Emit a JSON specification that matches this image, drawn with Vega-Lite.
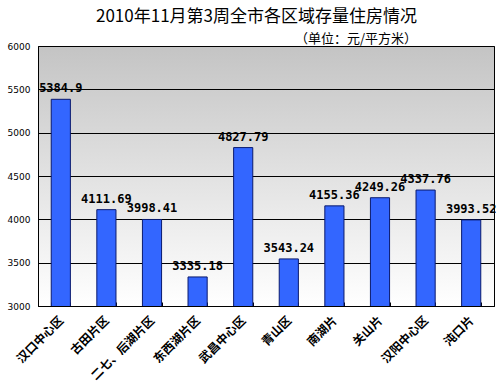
{
  "$schema": "https://vega.github.io/schema/vega-lite/v6.json",
  "autosize": {"type": "none"},
  "width": 456,
  "height": 260,
  "padding": {"left": 38, "top": 46, "right": 6, "bottom": 86},
  "background": "#ffffff",
  "title": {
    "text": "2010年11月第3周全市各区域存量住房情况",
    "subtitle": "（单位：元/平方米）",
    "anchor": "end",
    "frame": "group",
    "dx": -77,
    "offset": -5,
    "font": "Noto Sans CJK SC",
    "fontSize": 17,
    "fontWeight": "normal",
    "color": "#000000",
    "subtitleFont": "Noto Sans CJK SC",
    "subtitleFontSize": 13,
    "subtitleColor": "#000000",
    "subtitlePadding": 7
  },
  "data": {
    "values": [
      {"region": "汉口中心区", "price": 5384.9},
      {"region": "古田片区", "price": 4111.69},
      {"region": "二七、后湖片区", "price": 3998.41},
      {"region": "东西湖片区", "price": 3335.18},
      {"region": "武昌中心区", "price": 4827.79},
      {"region": "青山区", "price": 3543.24},
      {"region": "南湖片", "price": 4155.36},
      {"region": "关山片", "price": 4249.26},
      {"region": "汉阳中心区", "price": 4337.76},
      {"region": "沌口片", "price": 3993.52}
    ]
  },
  "encoding": {
    "x": {
      "field": "region",
      "type": "nominal",
      "sort": null,
      "scale": {"paddingInner": 0.58, "paddingOuter": 0.29},
      "axis": {
        "title": null,
        "labelAngle": -45,
        "labelAlign": "right",
        "labelBaseline": "middle",
        "labelFont": "Noto Sans CJK SC",
        "labelFontSize": 12,
        "labelFontWeight": "bold",
        "labelColor": "#000000",
        "labelPadding": 16,
        "tickBand": "extent",
        "tickSize": -4,
        "tickColor": "#000000",
        "domainColor": "#000000",
        "grid": false
      }
    },
    "y": {
      "field": "price",
      "type": "quantitative",
      "scale": {"domain": [3000, 6000], "zero": false, "nice": false},
      "axis": {
        "title": null,
        "values": [3000, 3500, 4000, 4500, 5000, 5500, 6000],
        "format": "d",
        "ticks": false,
        "labelPadding": 8,
        "labelFont": "DejaVu Sans",
        "labelFontSize": 9,
        "labelColor": "#000000",
        "domainColor": "#000000",
        "grid": true,
        "gridColor": "#000000",
        "gridOpacity": 1
      }
    }
  },
  "layer": [
    {
      "mark": {"type": "bar", "color": "#3366ff", "stroke": "#0a1a6e", "strokeWidth": 1, "clip": true}
    },
    {
      "mark": {
        "type": "text",
        "dy": -7,
        "baseline": "alphabetic",
        "font": "DejaVu Sans Mono",
        "fontSize": 12,
        "fontWeight": "bold",
        "color": "#000000"
      },
      "encoding": {"text": {"field": "price", "type": "quantitative"}}
    }
  ],
  "config": {
    "view": {
      "stroke": "#000000",
      "strokeWidth": 1,
      "fill": {
        "gradient": "linear",
        "x1": 0, "y1": 0, "x2": 0, "y2": 1,
        "stops": [
          {"offset": 0, "color": "#c4c4c4"},
          {"offset": 0.6, "color": "#e8e8e8"},
          {"offset": 1, "color": "#ffffff"}
        ]
      }
    }
  }
}
